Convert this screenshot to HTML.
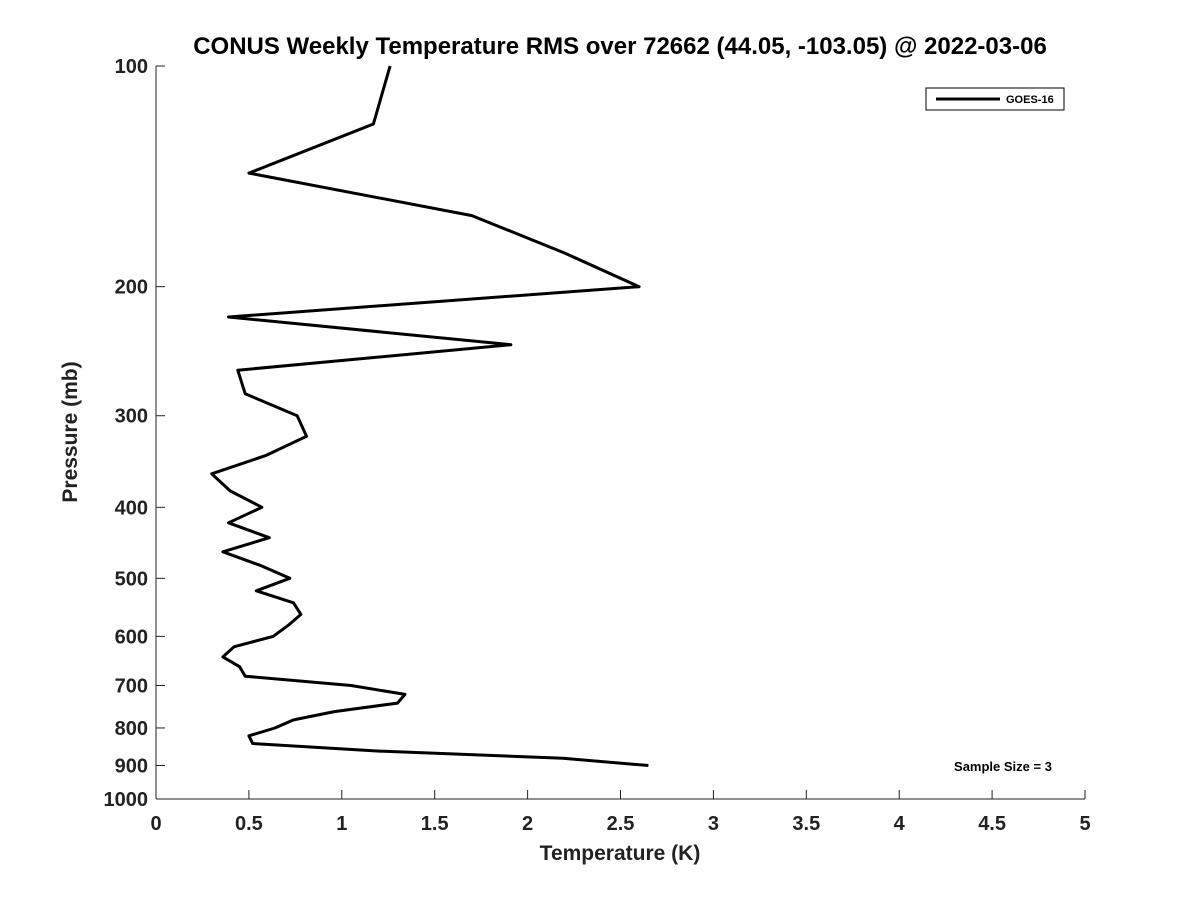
<!DOCTYPE html>
<html><head><meta charset="utf-8"><style>
body{margin:0;background:#fff}
svg{display:block;font-family:"Liberation Sans","DejaVu Sans",sans-serif}
</style></head><body>
<svg id="chart" width="1200" height="900" xmlns="http://www.w3.org/2000/svg">
<rect width="1200" height="900" fill="#fff"/>
<text x="620" y="54" text-anchor="middle" font-size="24" font-weight="bold" fill="#000">CONUS Weekly Temperature RMS over 72662 (44.05, -103.05) @ 2022-03-06</text>
<g id="axes"></g>
<text x="620" y="860" text-anchor="middle" font-size="21" font-weight="bold" fill="#222">Temperature (K)</text>
<text transform="translate(77,432) rotate(-90)" text-anchor="middle" font-size="21" font-weight="bold" fill="#222">Pressure (mb)</text>
<g>
<rect x="926" y="88" width="138" height="22" fill="#fff" stroke="#000" stroke-width="1"/>
<line x1="936" y1="99" x2="1000" y2="99" stroke="#000" stroke-width="3"/>
<text x="1006" y="103" font-size="11" font-weight="bold" fill="#000">GOES-16</text>
</g>
<text x="1003" y="771" text-anchor="middle" font-size="13" font-weight="bold" fill="#000">Sample Size = 3</text>
<path id="series" fill="none" stroke="#000" stroke-width="3" stroke-linejoin="round"/>
</svg>
<script>
const pressures=[100,120,140,160,180,200,220,240,260,280,300,320,340,360,380,400,420,440,460,480,500,520,540,560,580,600,620,640,660,680,700,720,740,760,780,800,820,840,860,880,900];
const rmsValues=[1.26,1.17,0.50,1.70,2.20,2.60,0.39,1.91,0.44,0.48,0.76,0.81,0.59,0.30,0.40,0.57,0.39,0.61,0.36,0.56,0.72,0.54,0.74,0.78,0.71,0.63,0.42,0.36,0.45,0.48,1.05,1.34,1.30,0.96,0.74,0.64,0.50,0.52,1.19,2.19,2.65];
const xTicks=[0,0.5,1,1.5,2,2.5,3,3.5,4,4.5,5];
const yTicks=[100,200,300,400,500,600,700,800,900,1000];
const X0=156,X1=1085,Y0=66,Y1=799;
const xs=v=>X0+(v-0)/(5-0)*(X1-X0);
const ys=p=>Y0+(Math.log10(p)-2)/(3-2)*(Y1-Y0);
const NS="http://www.w3.org/2000/svg";
const ax=document.getElementById('axes');
function mk(t,a){const e=document.createElementNS(NS,t);for(const k in a)e.setAttribute(k,a[k]);ax.appendChild(e);return e;}
let l=mk('line',{x1:X0,y1:Y0,x2:X0,y2:Y1,stroke:'#222','stroke-width':1});


l=mk('line',{x1:X0,y1:Y1,x2:X1,y2:Y1,stroke:'#222','stroke-width':1});


xTicks.forEach(v=>{
 const x=xs(v);
 const t=mk('line',{x1:x,y1:Y1,x2:x,y2:Y1-9,stroke:'#222','stroke-width':1});
 
 
 const s=mk('text',{x:x,y:830,'text-anchor':'middle','font-size':20,'font-weight':'bold',fill:'#222'});
 s.textContent=String(v);
 
 
});
yTicks.forEach(p=>{
 const y=ys(p);
 const t=mk('line',{x1:X0,y1:y,x2:X0+9,y2:y,stroke:'#222','stroke-width':1});
 
 
 const s=mk('text',{x:148,y:y+7,'text-anchor':'end','font-size':20,'font-weight':'bold',fill:'#222'});
 s.textContent=String(p);
 
 
});
document.getElementById('series').setAttribute('d',pressures.map((p,i)=>(i?'L':'M')+xs(rmsValues[i]).toFixed(1)+','+ys(p).toFixed(1)).join(' '));
</script>
</body></html>
